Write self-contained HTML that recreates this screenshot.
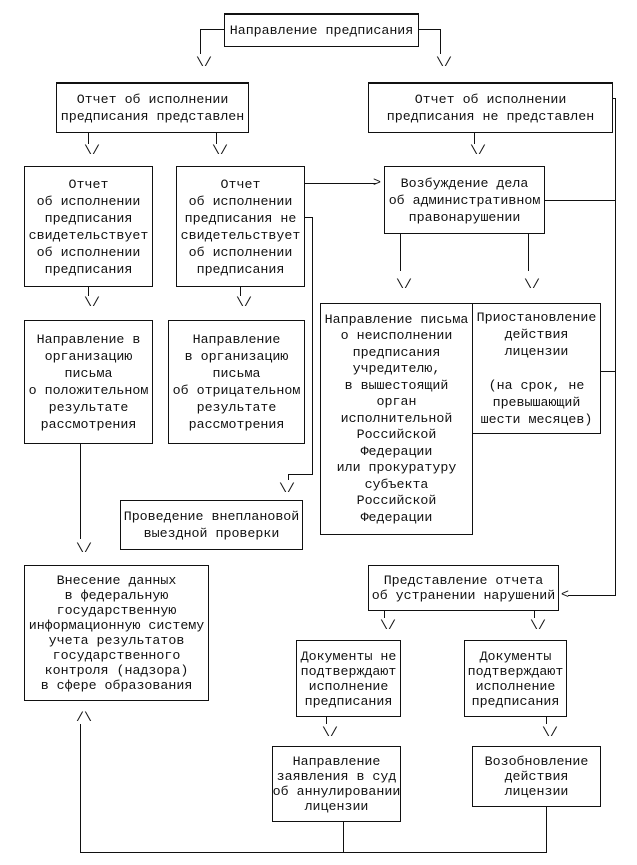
<!DOCTYPE html>
<html><head><meta charset="utf-8"><style>
body{margin:0;width:637px;height:865px;background:#fff;position:relative;overflow:hidden;font-family:"Liberation Mono","DejaVu Sans Mono",monospace;font-size:13.3px;color:#111}
.b{position:absolute;border:1px solid #111;box-sizing:border-box;display:flex;align-items:center;justify-content:center;text-align:center;line-height:17px;white-space:nowrap;background:#fff}
.t{border-top:2px solid #111}
.h{position:absolute;height:1px;background:#111}
.v{position:absolute;width:1px;background:#111}
.a{position:absolute;line-height:13px;white-space:nowrap}
</style></head><body>
<!-- connectors -->
<div class="h" style="left:200px;top:29px;width:24px"></div>
<div class="v" style="left:200px;top:29px;height:25px"></div>
<div class="a" style="left:196px;top:56px">\/</div>
<div class="h" style="left:418px;top:29px;width:22px"></div>
<div class="v" style="left:440px;top:29px;height:25px"></div>
<div class="a" style="left:436px;top:56px">\/</div>

<div class="v" style="left:88px;top:132px;height:12px"></div>
<div class="a" style="left:84px;top:144px">\/</div>
<div class="v" style="left:216px;top:132px;height:12px"></div>
<div class="a" style="left:212px;top:144px">\/</div>
<div class="v" style="left:474px;top:132px;height:12px"></div>
<div class="a" style="left:470px;top:144px">\/</div>

<div class="h" style="left:612px;top:98px;width:4px"></div>
<div class="v" style="left:615px;top:98px;height:498px"></div>
<div class="h" style="left:568px;top:595px;width:48px"></div>
<div class="a" style="left:561px;top:588px">&lt;</div>
<div class="h" style="left:544px;top:200px;width:71px"></div>
<div class="h" style="left:600px;top:371px;width:15px"></div>

<div class="h" style="left:304px;top:183px;width:72px"></div>
<div class="a" style="left:373px;top:176px">&gt;</div>
<div class="h" style="left:304px;top:217px;width:8px"></div>
<div class="v" style="left:312px;top:217px;height:257px"></div>
<div class="h" style="left:288px;top:474px;width:25px"></div>
<div class="v" style="left:288px;top:474px;height:6px"></div>
<div class="a" style="left:279px;top:482px">\/</div>

<div class="v" style="left:400px;top:233px;height:38px"></div>
<div class="a" style="left:396px;top:278px">\/</div>
<div class="v" style="left:528px;top:233px;height:38px"></div>
<div class="a" style="left:524px;top:278px">\/</div>

<div class="v" style="left:88px;top:286px;height:10px"></div>
<div class="a" style="left:84px;top:296px">\/</div>
<div class="v" style="left:240px;top:286px;height:10px"></div>
<div class="a" style="left:236px;top:296px">\/</div>

<div class="v" style="left:80px;top:443px;height:96px"></div>
<div class="a" style="left:76px;top:542px">\/</div>

<div class="a" style="left:76px;top:711px">/\</div>
<div class="v" style="left:80px;top:724px;height:129px"></div>
<div class="h" style="left:80px;top:852px;width:467px"></div>
<div class="v" style="left:343px;top:821px;height:31px"></div>
<div class="v" style="left:546px;top:806px;height:46px"></div>

<div class="v" style="left:384px;top:610px;height:8px"></div>
<div class="a" style="left:380px;top:619px">\/</div>
<div class="v" style="left:534px;top:610px;height:8px"></div>
<div class="a" style="left:530px;top:619px">\/</div>
<div class="v" style="left:326px;top:716px;height:8px"></div>
<div class="a" style="left:322px;top:726px">\/</div>
<div class="v" style="left:546px;top:716px;height:8px"></div>
<div class="a" style="left:542px;top:726px">\/</div>

<!-- boxes -->
<div class="b t" style="left:224px;top:13px;width:195px;height:34px">Направление предписания</div>
<div class="b t" style="left:56px;top:82px;width:193px;height:51px">Отчет об исполнении<br>предписания представлен</div>
<div class="b t" style="left:368px;top:82px;width:245px;height:51px">Отчет об исполнении<br>предписания не представлен</div>
<div class="b" style="left:24px;top:166px;width:129px;height:121px">Отчет<br>об исполнении<br>предписания<br>свидетельствует<br>об исполнении<br>предписания</div>
<div class="b" style="left:176px;top:166px;width:129px;height:121px">Отчет<br>об исполнении<br>предписания не<br>свидетельствует<br>об исполнении<br>предписания</div>
<div class="b" style="left:384px;top:166px;width:161px;height:68px">Возбуждение дела<br>об административном<br>правонарушении</div>
<div class="b" style="left:320px;top:303px;width:153px;height:232px;line-height:16.5px">Направление письма<br>о неисполнении<br>предписания<br>учредителю,<br>в вышестоящий<br>орган<br>исполнительной<br>Российской<br>Федерации<br>или прокуратуру<br>субъекта<br>Российской<br>Федерации</div>
<div class="b" style="left:472px;top:303px;width:129px;height:131px">Приостановление<br>действия<br>лицензии<br><br>(на срок, не<br>превышающий<br>шести месяцев)</div>
<div class="b" style="left:24px;top:320px;width:129px;height:124px">Направление в<br>организацию<br>письма<br>о положительном<br>результате<br>рассмотрения</div>
<div class="b" style="left:168px;top:320px;width:137px;height:124px">Направление<br>в организацию<br>письма<br>об отрицательном<br>результате<br>рассмотрения</div>
<div class="b" style="left:120px;top:500px;width:183px;height:50px">Проведение внеплановой<br>выездной проверки</div>
<div class="b" style="left:24px;top:565px;width:185px;height:136px;line-height:15px">Внесение данных<br>в федеральную<br>государственную<br>информационную систему<br>учета результатов<br>государственного<br>контроля (надзора)<br>в сфере образования</div>
<div class="b" style="left:368px;top:565px;width:191px;height:46px;line-height:15px">Представление отчета<br>об устранении нарушений</div>
<div class="b" style="left:296px;top:640px;width:105px;height:77px;line-height:15px">Документы не<br>подтверждают<br>исполнение<br>предписания</div>
<div class="b" style="left:464px;top:640px;width:103px;height:77px;line-height:15px">Документы<br>подтверждают<br>исполнение<br>предписания</div>
<div class="b" style="left:272px;top:746px;width:129px;height:76px;line-height:15px">Направление<br>заявления в суд<br>об аннулировании<br>лицензии</div>
<div class="b" style="left:472px;top:746px;width:129px;height:61px;line-height:15px">Возобновление<br>действия<br>лицензии</div>
</body></html>
